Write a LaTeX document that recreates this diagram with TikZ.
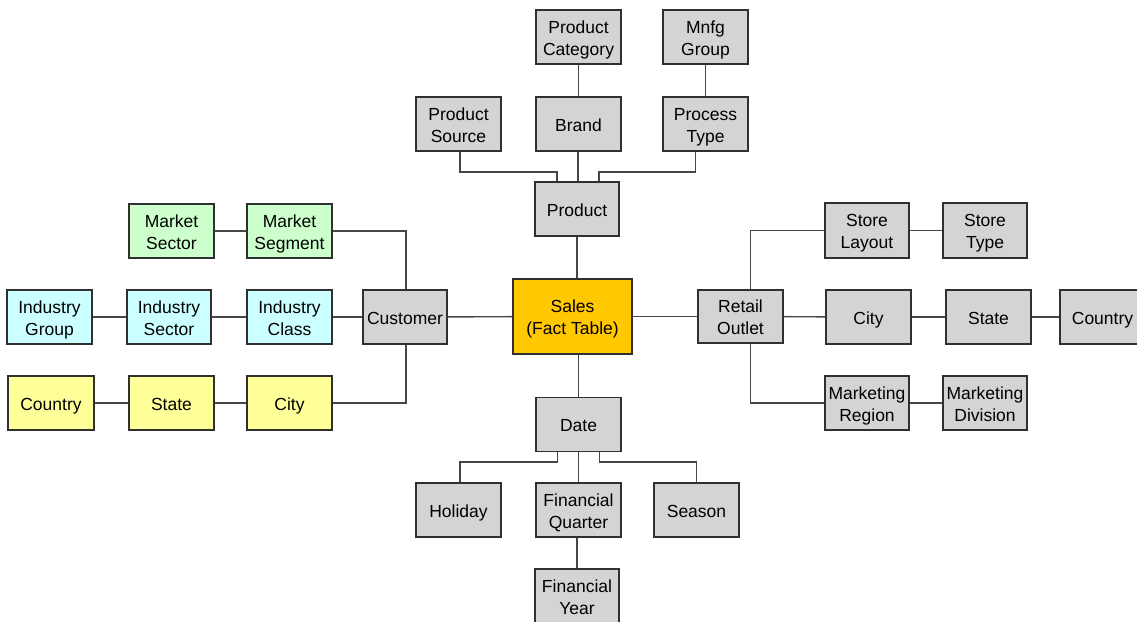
\documentclass[tikz,border=0pt]{standalone}
\usepackage{fontspec}
\setmainfont{Liberation Sans}
\usetikzlibrary{calc}
\definecolor{boxgray}{RGB}{212,212,212}
\definecolor{boxgreen}{RGB}{204,255,204}
\definecolor{boxcyan}{RGB}{204,255,255}
\definecolor{boxyellow}{RGB}{255,255,153}
\definecolor{boxorange}{RGB}{255,200,0}
\definecolor{edgeline}{RGB}{48,48,48}
\definecolor{linkline}{RGB}{70,70,70}
% fixed-size strut so every label sits at the same height in its box
\newcommand\lblstrut{\rule[-3.7pt]{0pt}{22pt}}
% two-line label, strutted on its first and last line
\newcommand\twolines[2]{\lblstrut#1\\#2\lblstrut}
\tikzset{
  dim/.style={draw=edgeline, line width=1.8pt, fill=boxgray, minimum width=85pt,
    minimum height=54pt, inner sep=0pt, align=center,
    font=\fontsize{17.5}{22}\selectfont,
    execute at begin node=\lblstrut, execute at end node=\lblstrut},
  green/.style={dim, fill=boxgreen},
  cyan/.style={dim, fill=boxcyan},
  yellow/.style={dim, fill=boxyellow},
  fact/.style={dim, fill=boxorange, minimum width=119pt, minimum height=75pt},
  link/.style={draw=linkline, line width=1.4pt}
}
\begin{document}
\begin{tikzpicture}[x=1pt, y=-1pt]
\useasboundingbox (0,0) rectangle (1137,621);

% product hierarchy
\node[dim] (pcat) at (578.5,37) {\twolines{Product}{Category}};
\node[dim] (mnfg) at (705.5,37) {\twolines{Mnfg}{Group}};
\node[dim] (psrc) at (458.5,124) {\twolines{Product}{Source}};
\node[dim] (brand) at (578.5,124) {Brand};
\node[dim] (ptype) at (705.5,124) {\twolines{Process}{Type}};
\node[dim, minimum width=84pt] (product) at (577,209) {Product};

% customer hierarchy
\node[green] (msector) at (171.5,231) {\twolines{Market}{Sector}};
\node[green] (msegment) at (289.5,231) {\twolines{Market}{Segment}};
\node[cyan] (igroup) at (49.5,317) {\twolines{Industry}{Group}};
\node[cyan, minimum width=84pt] (isector) at (169,317) {\twolines{Industry}{Sector}};
\node[cyan] (iclass) at (289.5,317) {\twolines{Industry}{Class}};
\node[dim, minimum width=84pt] (customer) at (405,317) {Customer};
\node[yellow, minimum width=86pt] (countryL) at (51,403) {Country};
\node[yellow] (stateL) at (171.5,403) {State};
\node[yellow] (cityL) at (289.5,403) {City};

% fact table
\node[fact] (sales) at (572.5,316.5) {\twolines{Sales}{(Fact Table)}};

% retail outlet hierarchy
\node[dim, minimum height=53pt] (retail) at (740.5,316.5) {\twolines{Retail}{Outlet}};
\node[dim, minimum width=84pt, minimum height=55pt] (slayout) at (867,230.5) {\twolines{Store}{Layout}};
\node[dim, minimum width=84pt, minimum height=55pt] (stype) at (985,230.5) {\twolines{Store}{Type}};
\node[dim] (cityR) at (868.5,317) {City};
\node[dim] (stateR) at (988.5,317) {State};
\node[dim] (countryR) at (1102.5,317) {Country};
\node[dim, minimum width=84pt] (mregion) at (867,403) {\twolines{Marketing}{Region}};
\node[dim, minimum width=84pt] (mdiv) at (985,403) {\twolines{Marketing}{Division}};

% date hierarchy
\node[dim] (date) at (578.5,424.5) {Date};
\node[dim] (holiday) at (458.5,510) {Holiday};
\node[dim] (fq) at (578.5,510) {\twolines{Financial}{Quarter}};
\node[dim] (season) at (696.5,510) {Season};
\node[dim, minimum width=84pt] (fy) at (577,596) {\twolines{Financial}{Year}};

% bus levels for the branching connectors
\coordinate (pbus) at (0,172);
\coordinate (dbus) at (0,462);

% product links
\draw[link] (pcat) -- (brand);
\draw[link] (mnfg) -- (ptype);
\draw[link] ([xshift=-0.5pt]brand.south) -- ([xshift=-0.5pt]brand.south |- product.north);
\draw[link] ([xshift=1.5pt]psrc.south) |- ([xshift=-20pt]product.north |- pbus) -- ([xshift=-20pt]product.north);
\draw[link] ([xshift=-10pt]ptype.south) |- ([xshift=22pt]product.north |- pbus) -- ([xshift=22pt]product.north);
\draw[link] (product.south) -- (product.south |- sales.north);

% customer links
\draw[link] (msector) -- (msegment);
\draw[link] (msegment.east) -| ([xshift=1pt]customer.north);
\draw[link] (igroup) -- (isector);
\draw[link] (isector) -- (iclass);
\draw[link] (iclass) -- (customer);
\draw[link] (countryL) -- (stateL);
\draw[link] (stateL) -- (cityL);
\draw[link] (cityL.east) -| ([xshift=1pt]customer.south);
\draw[link] (customer) -- (sales);

% retail outlet links
\draw[link] (sales) -- (retail);
\draw[link] ([xshift=10pt]retail.north) |- (slayout.west);
\draw[link] (slayout) -- (stype);
\draw[link] (retail) -- (cityR);
\draw[link] (cityR) -- (stateR);
\draw[link] (stateR) -- (countryR);
\draw[link] ([xshift=10pt]retail.south) |- (mregion.west);
\draw[link] (mregion) -- (mdiv);

% date links
\draw[link] (date.north |- sales.south) -- (date.north);
\draw[link] ([xshift=-21pt]date.south) |- ([xshift=1.5pt]holiday.north |- dbus) -- ([xshift=1.5pt]holiday.north);
\draw[link] (date) -- (fq);
\draw[link] ([xshift=21pt]date.south) |- (season.north |- dbus) -- (season.north);
\draw[link] ([xshift=-1.5pt]fq.south) -- ([xshift=-1.5pt]fq.south |- fy.north);
\end{tikzpicture}
\end{document}
